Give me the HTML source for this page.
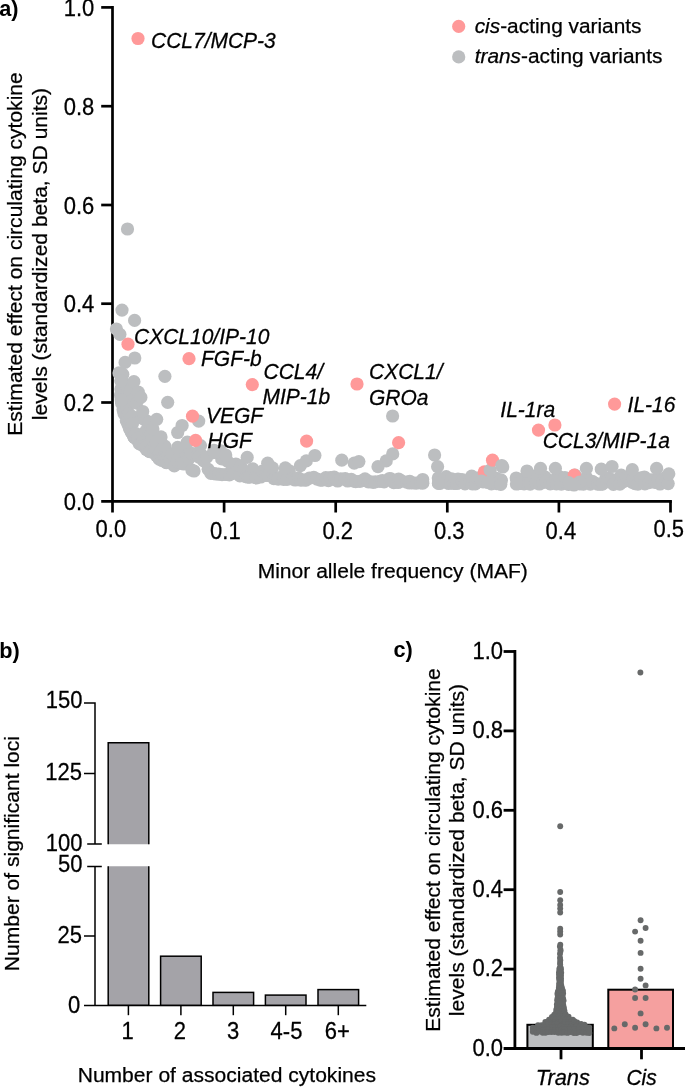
<!DOCTYPE html>
<html><head><meta charset="utf-8"><title>Figure</title>
<style>
html,body{margin:0;padding:0;background:#fff}
svg{display:block}
text{font-family:"Liberation Sans",sans-serif;font-size:20.85px;fill:#000}
.t{font-size:22px}
text{stroke:#000;stroke-width:0.25px}
.l{font-size:21.0px;font-style:italic}
svg{will-change:transform}
.h{font-size:21.05px}
.b{font-size:21.7px;font-weight:bold;stroke:none}
</style></head>
<body>
<svg width="685" height="1087" viewBox="0 0 685 1087">
<rect width="685" height="1087" fill="#fff"/>
<path d="M112.5 6.05V502.65000000000003M101.2 501.3H671.9" stroke="#000" stroke-width="2.7" fill="none"/>
<text class="t" transform="translate(94.3,509.8) scale(1,1.06)" text-anchor="end">0.0</text>
<path d="M101.2 402.5H112.5" stroke="#000" stroke-width="2.7"/>
<text class="t" transform="translate(94.3,411.0) scale(1,1.06)" text-anchor="end">0.2</text>
<path d="M101.2 303.7H112.5" stroke="#000" stroke-width="2.7"/>
<text class="t" transform="translate(94.3,312.2) scale(1,1.06)" text-anchor="end">0.4</text>
<path d="M101.2 205.0H112.5" stroke="#000" stroke-width="2.7"/>
<text class="t" transform="translate(94.3,213.5) scale(1,1.06)" text-anchor="end">0.6</text>
<path d="M101.2 106.2H112.5" stroke="#000" stroke-width="2.7"/>
<text class="t" transform="translate(94.3,114.7) scale(1,1.06)" text-anchor="end">0.8</text>
<path d="M101.2 7.4H112.5" stroke="#000" stroke-width="2.7"/>
<text class="t" transform="translate(94.3,15.9) scale(1,1.06)" text-anchor="end">1.0</text>
<path d="M112.5 501.3V512.5" stroke="#000" stroke-width="2.7"/>
<text class="t" transform="translate(110.9,536.8) scale(1,1.06)" text-anchor="middle">0.0</text>
<path d="M224.1 501.3V512.5" stroke="#000" stroke-width="2.7"/>
<text class="t" transform="translate(225.4,539.2) scale(1,1.06)" text-anchor="middle">0.1</text>
<path d="M335.7 501.3V512.5" stroke="#000" stroke-width="2.7"/>
<text class="t" transform="translate(337.7,539.2) scale(1,1.06)" text-anchor="middle">0.2</text>
<path d="M447.3 501.3V512.5" stroke="#000" stroke-width="2.7"/>
<text class="t" transform="translate(449.3,539.2) scale(1,1.06)" text-anchor="middle">0.3</text>
<path d="M558.9 501.3V512.5" stroke="#000" stroke-width="2.7"/>
<text class="t" transform="translate(560.9,539.2) scale(1,1.06)" text-anchor="middle">0.4</text>
<path d="M670.5 501.3V512.5" stroke="#000" stroke-width="2.7"/>
<text class="t" transform="translate(668.8,537.0) scale(1,1.06)" text-anchor="middle">0.5</text>
<text class="h" x="392.75" y="578.1" text-anchor="middle">Minor allele frequency (MAF)</text>
<text class="h" transform="translate(21.6,254) rotate(-90)" text-anchor="middle">Estimated effect on circulating cytokine</text>
<text class="h" transform="translate(46.8,254) rotate(-90)" text-anchor="middle">levels (standardized beta, SD units)</text>
<text class="b" x="-0.7" y="16.1">a)</text>
<circle cx="458.7" cy="26.4" r="6.6" fill="#FF9999"/><circle cx="458.7" cy="56.9" r="6.6" fill="#BCBEC0"/>
<text x="474.7" y="33.4"><tspan font-style="italic">cis</tspan>-acting variants</text>
<text x="474.7" y="63.3"><tspan font-style="italic">trans</tspan>-acting variants</text>
<g fill="#BCBEC0">
<circle cx="120.6" cy="395.2" r="6.6"/>
<circle cx="120.9" cy="388.9" r="6.6"/>
<circle cx="121.2" cy="400.1" r="6.6"/>
<circle cx="121.6" cy="403.2" r="6.6"/>
<circle cx="121.9" cy="374.2" r="6.6"/>
<circle cx="122.2" cy="381.3" r="6.6"/>
<circle cx="122.6" cy="383.1" r="6.6"/>
<circle cx="122.8" cy="374.3" r="6.6"/>
<circle cx="123.1" cy="409.5" r="6.6"/>
<circle cx="123.7" cy="410.8" r="6.6"/>
<circle cx="123.9" cy="400.4" r="6.6"/>
<circle cx="124.0" cy="413.6" r="6.6"/>
<circle cx="124.6" cy="408.7" r="6.6"/>
<circle cx="124.8" cy="410.1" r="6.6"/>
<circle cx="125.2" cy="412.8" r="6.6"/>
<circle cx="125.5" cy="399.1" r="6.6"/>
<circle cx="125.8" cy="398.1" r="6.6"/>
<circle cx="126.0" cy="403.6" r="6.6"/>
<circle cx="126.3" cy="420.8" r="6.6"/>
<circle cx="126.8" cy="385.8" r="6.6"/>
<circle cx="127.2" cy="409.0" r="6.6"/>
<circle cx="127.4" cy="414.8" r="6.6"/>
<circle cx="127.8" cy="392.2" r="6.6"/>
<circle cx="128.0" cy="424.1" r="6.6"/>
<circle cx="128.4" cy="385.3" r="6.6"/>
<circle cx="128.6" cy="413.6" r="6.6"/>
<circle cx="128.8" cy="424.5" r="6.6"/>
<circle cx="129.1" cy="426.5" r="6.6"/>
<circle cx="129.5" cy="428.2" r="6.6"/>
<circle cx="130.0" cy="429.2" r="6.6"/>
<circle cx="130.2" cy="391.6" r="6.6"/>
<circle cx="130.7" cy="423.6" r="6.6"/>
<circle cx="130.8" cy="390.1" r="6.6"/>
<circle cx="131.1" cy="431.8" r="6.6"/>
<circle cx="131.4" cy="421.8" r="6.6"/>
<circle cx="131.7" cy="432.5" r="6.6"/>
<circle cx="132.1" cy="416.4" r="6.6"/>
<circle cx="132.5" cy="423.5" r="6.6"/>
<circle cx="132.8" cy="433.1" r="6.6"/>
<circle cx="133.2" cy="400.0" r="6.6"/>
<circle cx="133.4" cy="434.4" r="6.6"/>
<circle cx="133.8" cy="436.7" r="6.6"/>
<circle cx="133.9" cy="436.3" r="6.6"/>
<circle cx="134.2" cy="437.2" r="6.6"/>
<circle cx="134.5" cy="437.6" r="6.6"/>
<circle cx="135.5" cy="436.8" r="6.6"/>
<circle cx="135.8" cy="433.5" r="6.6"/>
<circle cx="136.5" cy="403.2" r="6.6"/>
<circle cx="137.6" cy="440.5" r="6.6"/>
<circle cx="138.1" cy="438.1" r="6.6"/>
<circle cx="139.5" cy="443.9" r="6.6"/>
<circle cx="140.4" cy="442.6" r="6.6"/>
<circle cx="140.8" cy="444.2" r="6.6"/>
<circle cx="142.0" cy="418.1" r="6.6"/>
<circle cx="142.2" cy="444.1" r="6.6"/>
<circle cx="143.4" cy="436.0" r="6.6"/>
<circle cx="143.9" cy="446.3" r="6.6"/>
<circle cx="145.2" cy="420.2" r="6.6"/>
<circle cx="145.8" cy="431.1" r="6.6"/>
<circle cx="146.4" cy="449.6" r="6.6"/>
<circle cx="146.8" cy="446.6" r="6.6"/>
<circle cx="148.1" cy="429.6" r="6.6"/>
<circle cx="149.1" cy="422.0" r="6.6"/>
<circle cx="149.5" cy="451.7" r="6.6"/>
<circle cx="150.1" cy="451.3" r="6.6"/>
<circle cx="151.5" cy="432.1" r="6.6"/>
<circle cx="152.1" cy="439.2" r="6.6"/>
<circle cx="152.9" cy="428.9" r="6.6"/>
<circle cx="153.8" cy="452.9" r="6.6"/>
<circle cx="154.6" cy="445.6" r="6.6"/>
<circle cx="155.5" cy="451.5" r="6.6"/>
<circle cx="156.3" cy="442.2" r="6.6"/>
<circle cx="156.4" cy="455.6" r="6.6"/>
<circle cx="157.8" cy="456.7" r="6.6"/>
<circle cx="158.7" cy="454.6" r="6.6"/>
<circle cx="159.2" cy="459.1" r="6.6"/>
<circle cx="160.3" cy="453.7" r="6.6"/>
<circle cx="161.1" cy="450.3" r="6.6"/>
<circle cx="161.8" cy="460.3" r="6.6"/>
<circle cx="162.2" cy="460.0" r="6.6"/>
<circle cx="162.9" cy="460.0" r="6.6"/>
<circle cx="164.2" cy="457.2" r="6.6"/>
<circle cx="164.8" cy="446.1" r="6.6"/>
<circle cx="165.8" cy="457.4" r="6.6"/>
<circle cx="166.3" cy="462.7" r="6.6"/>
<circle cx="166.9" cy="462.5" r="6.6"/>
<circle cx="167.6" cy="456.5" r="6.6"/>
<circle cx="169.6" cy="459.6" r="6.6"/>
<circle cx="171.9" cy="454.3" r="6.6"/>
<circle cx="174.3" cy="465.9" r="6.6"/>
<circle cx="177.1" cy="461.8" r="6.6"/>
<circle cx="179.4" cy="453.3" r="6.6"/>
<circle cx="181.3" cy="463.5" r="6.6"/>
<circle cx="183.9" cy="464.0" r="6.6"/>
<circle cx="185.7" cy="452.7" r="6.6"/>
<circle cx="188.9" cy="458.5" r="6.6"/>
<circle cx="190.5" cy="452.8" r="6.6"/>
<circle cx="191.9" cy="470.1" r="6.6"/>
<circle cx="194.0" cy="471.0" r="6.6"/>
<circle cx="197.8" cy="454.5" r="6.6"/>
<circle cx="198.9" cy="457.2" r="6.6"/>
<circle cx="201.2" cy="454.7" r="6.6"/>
<circle cx="203.7" cy="460.9" r="6.6"/>
<circle cx="206.6" cy="457.3" r="6.6"/>
<circle cx="208.2" cy="469.3" r="6.6"/>
<circle cx="210.9" cy="473.4" r="6.6"/>
<circle cx="214.2" cy="473.5" r="6.6"/>
<circle cx="215.8" cy="474.0" r="6.6"/>
<circle cx="218.6" cy="474.1" r="6.6"/>
<circle cx="221.7" cy="458.9" r="6.6"/>
<circle cx="222.0" cy="474.7" r="6.6"/>
<circle cx="225.9" cy="474.5" r="6.6"/>
<circle cx="227.4" cy="461.2" r="6.6"/>
<circle cx="229.4" cy="474.8" r="6.6"/>
<circle cx="232.4" cy="468.2" r="6.6"/>
<circle cx="233.5" cy="473.1" r="6.6"/>
<circle cx="235.9" cy="464.0" r="6.6"/>
<circle cx="239.9" cy="475.9" r="6.6"/>
<circle cx="240.5" cy="466.1" r="6.6"/>
<circle cx="243.5" cy="470.7" r="6.6"/>
<circle cx="245.6" cy="476.7" r="6.6"/>
<circle cx="247.9" cy="477.2" r="6.6"/>
<circle cx="249.8" cy="477.2" r="6.6"/>
<circle cx="252.7" cy="468.8" r="6.6"/>
<circle cx="255.5" cy="477.6" r="6.6"/>
<circle cx="256.7" cy="477.9" r="6.6"/>
<circle cx="260.7" cy="477.0" r="6.6"/>
<circle cx="262.4" cy="471.1" r="6.6"/>
<circle cx="265.5" cy="475.4" r="6.6"/>
<circle cx="267.9" cy="475.5" r="6.6"/>
<circle cx="269.9" cy="469.9" r="6.6"/>
<circle cx="272.5" cy="467.9" r="6.6"/>
<circle cx="273.9" cy="478.7" r="6.6"/>
<circle cx="275.6" cy="478.5" r="6.6"/>
<circle cx="278.2" cy="479.2" r="6.6"/>
<circle cx="282.3" cy="476.3" r="6.6"/>
<circle cx="283.6" cy="479.3" r="6.6"/>
<circle cx="287.0" cy="479.3" r="6.6"/>
<circle cx="289.3" cy="470.9" r="6.6"/>
<circle cx="293.0" cy="479.1" r="6.6"/>
<circle cx="295.2" cy="480.0" r="6.6"/>
<circle cx="298.3" cy="477.8" r="6.6"/>
<circle cx="300.7" cy="480.2" r="6.6"/>
<circle cx="303.8" cy="480.0" r="6.6"/>
<circle cx="306.0" cy="480.1" r="6.6"/>
<circle cx="309.4" cy="478.1" r="6.6"/>
<circle cx="313.8" cy="477.4" r="6.6"/>
<circle cx="317.1" cy="479.2" r="6.6"/>
<circle cx="320.3" cy="480.2" r="6.6"/>
<circle cx="322.2" cy="480.2" r="6.6"/>
<circle cx="325.8" cy="477.7" r="6.6"/>
<circle cx="328.4" cy="480.6" r="6.6"/>
<circle cx="330.4" cy="477.5" r="6.6"/>
<circle cx="334.2" cy="477.2" r="6.6"/>
<circle cx="336.7" cy="480.2" r="6.6"/>
<circle cx="337.7" cy="481.0" r="6.6"/>
<circle cx="340.8" cy="478.9" r="6.6"/>
<circle cx="345.2" cy="478.6" r="6.6"/>
<circle cx="347.7" cy="481.0" r="6.6"/>
<circle cx="351.3" cy="479.4" r="6.6"/>
<circle cx="354.0" cy="481.2" r="6.6"/>
<circle cx="355.7" cy="481.6" r="6.6"/>
<circle cx="359.9" cy="481.4" r="6.6"/>
<circle cx="363.5" cy="480.4" r="6.6"/>
<circle cx="365.0" cy="478.9" r="6.6"/>
<circle cx="368.3" cy="481.9" r="6.6"/>
<circle cx="369.8" cy="481.7" r="6.6"/>
<circle cx="373.1" cy="482.3" r="6.6"/>
<circle cx="375.3" cy="481.9" r="6.6"/>
<circle cx="380.0" cy="481.3" r="6.6"/>
<circle cx="382.4" cy="480.6" r="6.6"/>
<circle cx="384.1" cy="481.8" r="6.6"/>
<circle cx="389.5" cy="478.5" r="6.6"/>
<circle cx="390.9" cy="478.8" r="6.6"/>
<circle cx="393.8" cy="482.6" r="6.6"/>
<circle cx="398.1" cy="482.5" r="6.6"/>
<circle cx="398.6" cy="479.0" r="6.6"/>
<circle cx="401.5" cy="480.9" r="6.6"/>
<circle cx="406.6" cy="482.1" r="6.6"/>
<circle cx="409.5" cy="483.0" r="6.6"/>
<circle cx="409.8" cy="481.3" r="6.6"/>
<circle cx="413.5" cy="483.0" r="6.6"/>
<circle cx="416.5" cy="483.2" r="6.6"/>
<circle cx="420.6" cy="482.9" r="6.6"/>
<circle cx="438.5" cy="483.4" r="6.6"/>
<circle cx="440.1" cy="483.4" r="6.6"/>
<circle cx="444.3" cy="480.6" r="6.6"/>
<circle cx="446.2" cy="476.6" r="6.6"/>
<circle cx="448.7" cy="483.5" r="6.6"/>
<circle cx="451.6" cy="478.8" r="6.6"/>
<circle cx="453.8" cy="483.5" r="6.6"/>
<circle cx="457.0" cy="483.5" r="6.6"/>
<circle cx="458.0" cy="479.0" r="6.6"/>
<circle cx="462.0" cy="479.6" r="6.6"/>
<circle cx="462.8" cy="481.3" r="6.6"/>
<circle cx="465.0" cy="483.8" r="6.6"/>
<circle cx="469.3" cy="482.5" r="6.6"/>
<circle cx="471.7" cy="476.1" r="6.6"/>
<circle cx="472.3" cy="483.9" r="6.6"/>
<circle cx="475.3" cy="483.8" r="6.6"/>
<circle cx="477.5" cy="478.2" r="6.6"/>
<circle cx="481.2" cy="481.3" r="6.6"/>
<circle cx="483.1" cy="481.8" r="6.6"/>
<circle cx="484.5" cy="477.7" r="6.6"/>
<circle cx="487.1" cy="480.0" r="6.6"/>
<circle cx="491.4" cy="483.9" r="6.6"/>
<circle cx="492.3" cy="481.2" r="6.6"/>
<circle cx="496.5" cy="478.4" r="6.6"/>
<circle cx="496.7" cy="483.6" r="6.6"/>
<circle cx="501.3" cy="480.3" r="6.6"/>
<circle cx="518.3" cy="483.6" r="6.6"/>
<circle cx="520.5" cy="483.4" r="6.6"/>
<circle cx="521.9" cy="479.7" r="6.6"/>
<circle cx="524.1" cy="483.9" r="6.6"/>
<circle cx="527.7" cy="482.8" r="6.6"/>
<circle cx="530.2" cy="484.1" r="6.6"/>
<circle cx="532.3" cy="475.9" r="6.6"/>
<circle cx="535.8" cy="482.8" r="6.6"/>
<circle cx="536.7" cy="475.8" r="6.6"/>
<circle cx="539.4" cy="484.0" r="6.6"/>
<circle cx="542.7" cy="482.6" r="6.6"/>
<circle cx="545.2" cy="477.2" r="6.6"/>
<circle cx="546.1" cy="481.6" r="6.6"/>
<circle cx="550.2" cy="483.8" r="6.6"/>
<circle cx="552.8" cy="483.0" r="6.6"/>
<circle cx="555.8" cy="479.0" r="6.6"/>
<circle cx="556.4" cy="483.8" r="6.6"/>
<circle cx="559.1" cy="476.5" r="6.6"/>
<circle cx="561.3" cy="484.1" r="6.6"/>
<circle cx="564.9" cy="477.5" r="6.6"/>
<circle cx="566.7" cy="483.7" r="6.6"/>
<circle cx="568.6" cy="484.3" r="6.6"/>
<circle cx="571.7" cy="478.7" r="6.6"/>
<circle cx="575.0" cy="475.2" r="6.6"/>
<circle cx="576.4" cy="483.7" r="6.6"/>
<circle cx="579.9" cy="483.9" r="6.6"/>
<circle cx="581.5" cy="482.2" r="6.6"/>
<circle cx="583.4" cy="484.2" r="6.6"/>
<circle cx="586.4" cy="477.5" r="6.6"/>
<circle cx="590.3" cy="484.1" r="6.6"/>
<circle cx="592.4" cy="481.6" r="6.6"/>
<circle cx="593.0" cy="481.9" r="6.6"/>
<circle cx="597.6" cy="484.1" r="6.6"/>
<circle cx="600.0" cy="484.1" r="6.6"/>
<circle cx="602.3" cy="484.1" r="6.6"/>
<circle cx="602.8" cy="483.7" r="6.6"/>
<circle cx="605.9" cy="478.5" r="6.6"/>
<circle cx="608.5" cy="478.1" r="6.6"/>
<circle cx="611.7" cy="479.7" r="6.6"/>
<circle cx="613.4" cy="484.3" r="6.6"/>
<circle cx="617.0" cy="480.2" r="6.6"/>
<circle cx="619.9" cy="484.1" r="6.6"/>
<circle cx="621.2" cy="475.1" r="6.6"/>
<circle cx="623.5" cy="481.5" r="6.6"/>
<circle cx="626.2" cy="477.3" r="6.6"/>
<circle cx="629.4" cy="479.0" r="6.6"/>
<circle cx="631.8" cy="482.1" r="6.6"/>
<circle cx="633.2" cy="479.2" r="6.6"/>
<circle cx="635.0" cy="483.7" r="6.6"/>
<circle cx="637.9" cy="484.2" r="6.6"/>
<circle cx="641.1" cy="477.9" r="6.6"/>
<circle cx="644.4" cy="477.0" r="6.6"/>
<circle cx="644.9" cy="483.9" r="6.6"/>
<circle cx="648.9" cy="482.7" r="6.6"/>
<circle cx="650.7" cy="479.8" r="6.6"/>
<circle cx="654.0" cy="479.9" r="6.6"/>
<circle cx="654.9" cy="482.3" r="6.6"/>
<circle cx="658.4" cy="479.4" r="6.6"/>
<circle cx="660.0" cy="484.0" r="6.6"/>
<circle cx="662.4" cy="480.4" r="6.6"/>
<circle cx="665.3" cy="477.7" r="6.6"/>
<circle cx="668.2" cy="483.6" r="6.6"/>
<circle cx="122.0" cy="310.1" r="6.6"/>
<circle cx="134.6" cy="320.4" r="6.6"/>
<circle cx="116.4" cy="329.0" r="6.6"/>
<circle cx="119.9" cy="334.4" r="6.6"/>
<circle cx="134.8" cy="358.0" r="6.6"/>
<circle cx="125.1" cy="362.4" r="6.6"/>
<circle cx="119.0" cy="372.9" r="6.6"/>
<circle cx="120.8" cy="380.8" r="6.6"/>
<circle cx="133.9" cy="381.7" r="6.6"/>
<circle cx="138.3" cy="392.2" r="6.6"/>
<circle cx="140.9" cy="397.4" r="6.6"/>
<circle cx="121.6" cy="400.0" r="6.6"/>
<circle cx="142.7" cy="411.5" r="6.6"/>
<circle cx="156.7" cy="419.3" r="6.6"/>
<circle cx="182.1" cy="425.5" r="6.6"/>
<circle cx="177.7" cy="432.5" r="6.6"/>
<circle cx="198.7" cy="421.1" r="6.6"/>
<circle cx="161.0" cy="436.9" r="6.6"/>
<circle cx="177.7" cy="447.4" r="6.6"/>
<circle cx="187.3" cy="442.1" r="6.6"/>
<circle cx="200.5" cy="445.6" r="6.6"/>
<circle cx="213.6" cy="452.6" r="6.6"/>
<circle cx="220.6" cy="450.9" r="6.6"/>
<circle cx="164.9" cy="376.3" r="6.6"/>
<circle cx="167.7" cy="402.3" r="6.6"/>
<circle cx="127.5" cy="229.0" r="6.6"/>
<circle cx="214.0" cy="450.4" r="6.6"/>
<circle cx="225.7" cy="455.0" r="6.6"/>
<circle cx="247.2" cy="457.4" r="6.6"/>
<circle cx="267.7" cy="463.2" r="6.6"/>
<circle cx="285.3" cy="467.9" r="6.6"/>
<circle cx="300.4" cy="465.6" r="6.6"/>
<circle cx="306.3" cy="460.9" r="6.6"/>
<circle cx="314.9" cy="455.5" r="6.6"/>
<circle cx="341.8" cy="460.2" r="6.6"/>
<circle cx="354.2" cy="463.2" r="6.6"/>
<circle cx="358.9" cy="461.6" r="6.6"/>
<circle cx="392.7" cy="453.9" r="6.6"/>
<circle cx="386.2" cy="460.9" r="6.6"/>
<circle cx="378.0" cy="466.7" r="6.6"/>
<circle cx="392.6" cy="416.0" r="6.6"/>
<circle cx="434.6" cy="455.0" r="6.6"/>
<circle cx="437.6" cy="466.7" r="6.6"/>
<circle cx="516.2" cy="478.0" r="6.6"/>
<circle cx="516.4" cy="484.0" r="6.6"/>
<circle cx="501.0" cy="480.0" r="6.6"/>
<circle cx="500.8" cy="484.3" r="6.6"/>
<circle cx="422.7" cy="479.5" r="6.6"/>
<circle cx="422.8" cy="483.2" r="6.6"/>
<circle cx="438.3" cy="478.0" r="6.6"/>
<circle cx="438.4" cy="483.0" r="6.6"/>
<circle cx="502.7" cy="467.0" r="6.6"/>
<circle cx="527.0" cy="471.0" r="6.6"/>
<circle cx="540.5" cy="468.4" r="6.6"/>
<circle cx="555.4" cy="468.4" r="6.6"/>
<circle cx="586.4" cy="468.4" r="6.6"/>
<circle cx="601.3" cy="469.2" r="6.6"/>
<circle cx="612.0" cy="466.5" r="6.6"/>
<circle cx="632.3" cy="469.7" r="6.6"/>
<circle cx="656.6" cy="468.4" r="6.6"/>
<circle cx="668.8" cy="473.8" r="6.6"/>
</g>
<g fill="#FF9999">
<circle cx="484.3" cy="471.9" r="6.6"/>
<circle cx="574.3" cy="475.1" r="6.6"/>
</g>
<g fill="#BCBEC0">
<circle cx="490.2" cy="470.2" r="6.6"/>
<circle cx="481.5" cy="481.0" r="6.6"/>
<circle cx="488.0" cy="482.5" r="6.6"/>
<circle cx="568.6" cy="482.6" r="6.6"/>
<circle cx="579.6" cy="482.2" r="6.6"/>
<circle cx="574.0" cy="485.0" r="6.6"/>
</g>
<g fill="#FF9999">
<circle cx="138.0" cy="38.5" r="6.6"/>
<circle cx="128.0" cy="344.2" r="6.6"/>
<circle cx="189.0" cy="358.7" r="6.6"/>
<circle cx="252.3" cy="384.6" r="6.6"/>
<circle cx="192.5" cy="416.2" r="6.6"/>
<circle cx="195.6" cy="440.4" r="6.6"/>
<circle cx="306.6" cy="441.1" r="6.6"/>
<circle cx="357.0" cy="384.0" r="6.6"/>
<circle cx="398.6" cy="442.7" r="6.6"/>
<circle cx="492.5" cy="460.2" r="6.6"/>
<circle cx="538.5" cy="430.1" r="6.6"/>
<circle cx="554.9" cy="425.0" r="6.6"/>
<circle cx="614.6" cy="404.1" r="6.6"/>
</g>
<circle cx="501.8" cy="465.5" r="6.6" fill="#BCBEC0"/>
<text class="l" transform="translate(151,48) scale(1,1.05)">CCL7/MCP-3</text>
<text class="l" transform="translate(134,344) scale(1,1.05)">CXCL10/IP-10</text>
<text class="l" transform="translate(201,366) scale(1,1.05)">FGF-b</text>
<text class="l" transform="translate(263.5,378.5) scale(1,1.05)">CCL4/</text>
<text class="l" transform="translate(262.5,403.5) scale(1,1.05)">MIP-1b</text>
<text class="l" transform="translate(206,422.5) scale(1,1.05)">VEGF</text>
<text class="l" transform="translate(207.5,447.5) scale(1,1.05)">HGF</text>
<text class="l" transform="translate(369,379) scale(1,1.05)">CXCL1/</text>
<text class="l" transform="translate(369,405) scale(1,1.05)">GROa</text>
<text class="l" transform="translate(500.3,416.8) scale(1,1.05)">IL-1ra</text>
<text class="l" transform="translate(627.6,411.8) scale(1,1.05)">IL-16</text>
<text class="l" transform="translate(542.7,448.3) scale(1,1.05)">CCL3/MIP-1a</text>
<path d="M95.0 702.25V844M84 703H95.0M84 773.6H95.0M87.2 844H101.8" stroke="#000" stroke-width="1.5" fill="none"/>
<path d="M95.0 866.4V1005.4M87.2 866.4H101.8M84 935.9H95.0M84 1005.4H366.3" stroke="#000" stroke-width="1.5" fill="none"/>
<path d="M108.2 844.2V742.8H148.8V844.2" fill="#A4A3A8" stroke="#000" stroke-width="1.5"/>
<path d="M108.2 866.3V1005.3H148.8V866.3" fill="#A4A3A8" stroke="#000" stroke-width="1.5"/>
<rect x="160.6" y="956.2" width="40.6" height="49.1" fill="#A4A3A8" stroke="#000" stroke-width="1.5"/>
<rect x="213.0" y="992.4" width="40.6" height="12.9" fill="#A4A3A8" stroke="#000" stroke-width="1.5"/>
<rect x="265.4" y="995.1" width="40.6" height="10.2" fill="#A4A3A8" stroke="#000" stroke-width="1.5"/>
<rect x="318.0" y="989.6" width="40.6" height="15.7" fill="#A4A3A8" stroke="#000" stroke-width="1.5"/>
<path d="M128.4 1005.3V1015.2" stroke="#000" stroke-width="1.5"/>
<path d="M180.9 1005.3V1015.2" stroke="#000" stroke-width="1.5"/>
<path d="M233.3 1005.3V1015.2" stroke="#000" stroke-width="1.5"/>
<path d="M285.7 1005.3V1015.2" stroke="#000" stroke-width="1.5"/>
<path d="M338.3 1005.3V1015.2" stroke="#000" stroke-width="1.5"/>
<text class="t" transform="translate(127.6,1039.4) scale(1,1.06)" text-anchor="middle">1</text>
<text class="t" transform="translate(179.9,1039.4) scale(1,1.06)" text-anchor="middle">2</text>
<text class="t" transform="translate(233,1039.4) scale(1,1.06)" text-anchor="middle">3</text>
<text class="t" transform="translate(286.5,1039.4) scale(1,1.06)" text-anchor="middle">4-5</text>
<text class="t" transform="translate(337.4,1039.4) scale(1,1.06)" text-anchor="middle">6+</text>
<text class="t" transform="translate(82.4,708.0) scale(1,1.06)" text-anchor="end">150</text>
<text class="t" transform="translate(82.0,780.3) scale(1,1.06)" text-anchor="end">125</text>
<text class="t" transform="translate(82.4,850.8) scale(1,1.06)" text-anchor="end">100</text>
<text class="t" transform="translate(82.4,871.6) scale(1,1.06)" text-anchor="end">50</text>
<text class="t" transform="translate(82.0,942.9) scale(1,1.06)" text-anchor="end">25</text>
<text class="t" transform="translate(80.3,1012.6) scale(1,1.06)" text-anchor="end">0</text>
<text class="h" x="226.85" y="1081.8" text-anchor="middle">Number of associated cytokines</text>
<text class="h" transform="translate(19.1,853.6) rotate(-90)" text-anchor="middle">Number of significant loci</text>
<text class="b" x="-0.7" y="657.8">b)</text>
<rect x="527.4" y="1024.8" width="65.4" height="23.7" fill="#BCBEC0" stroke="#000" stroke-width="2"/>
<rect x="608.3" y="989.7" width="64.7" height="58.8" fill="#F5A09F" stroke="#000" stroke-width="2"/>
<path d="M514.9 650.10V1049.9M503.59999999999997 1048.5H685" stroke="#000" stroke-width="2.8" fill="none"/>
<text class="t" transform="translate(503,1055.7) scale(1,1.06)" text-anchor="end">0.0</text>
<path d="M503.59999999999997 969.1H514.9" stroke="#000" stroke-width="2.8"/>
<text class="t" transform="translate(503,976.3) scale(1,1.06)" text-anchor="end">0.2</text>
<path d="M503.59999999999997 889.7H514.9" stroke="#000" stroke-width="2.8"/>
<text class="t" transform="translate(503,896.9) scale(1,1.06)" text-anchor="end">0.4</text>
<path d="M503.59999999999997 810.3H514.9" stroke="#000" stroke-width="2.8"/>
<text class="t" transform="translate(503,817.5) scale(1,1.06)" text-anchor="end">0.6</text>
<path d="M503.59999999999997 730.9H514.9" stroke="#000" stroke-width="2.8"/>
<text class="t" transform="translate(503,738.1) scale(1,1.06)" text-anchor="end">0.8</text>
<path d="M503.59999999999997 651.5H514.9" stroke="#000" stroke-width="2.8"/>
<text class="t" transform="translate(503,658.7) scale(1,1.06)" text-anchor="end">1.0</text>
<path d="M561 1048.5V1059.3" stroke="#000" stroke-width="2.8"/>
<path d="M641.5 1048.5V1059.3" stroke="#000" stroke-width="2.8"/>
<text transform="translate(562.8,1085) scale(1.04,1.05)" text-anchor="middle" class="l">Trans</text>
<text transform="translate(641.6,1085) scale(1,1.05)" text-anchor="middle" class="l">Cis</text>
<text class="h" transform="translate(440.0,850) rotate(-90)" text-anchor="middle">Estimated effect on circulating cytokine</text>
<text class="h" transform="translate(464.3,850) rotate(-90)" text-anchor="middle">levels (standardized beta, SD units)</text>
<text class="b" x="393.5" y="656.8">c)</text>
<g fill="#676969">
<circle cx="640.6" cy="920.2" r="2.95"/>
<circle cx="635.1" cy="931.6" r="2.95"/>
<circle cx="645.6" cy="928" r="2.95"/>
<circle cx="640.6" cy="940.7" r="2.95"/>
<circle cx="640.6" cy="952.9" r="2.95"/>
<circle cx="640.6" cy="968.7" r="2.95"/>
<circle cx="640.6" cy="978.7" r="2.95"/>
<circle cx="645.6" cy="985.4" r="2.95"/>
<circle cx="635.1" cy="989.5" r="2.95"/>
<circle cx="635.1" cy="998" r="2.95"/>
<circle cx="645.6" cy="998" r="2.95"/>
<circle cx="640.6" cy="1013.4" r="2.95"/>
<circle cx="614.3" cy="1028.4" r="2.95"/>
<circle cx="624.8" cy="1024.2" r="2.95"/>
<circle cx="635.1" cy="1027.8" r="2.95"/>
<circle cx="645.6" cy="1024.2" r="2.95"/>
<circle cx="656.4" cy="1028.4" r="2.95"/>
<circle cx="667" cy="1027.8" r="2.95"/>
<circle cx="640.4" cy="672.5" r="2.95"/>
<circle cx="560.2" cy="826.2" r="2.95"/>
<circle cx="560.2" cy="892.0" r="2.95"/>
<circle cx="560.2" cy="900.3" r="2.95"/>
<circle cx="560.2" cy="905.0" r="2.95"/>
<circle cx="560.2" cy="908.6" r="2.95"/>
<circle cx="560.2" cy="912.5" r="2.95"/>
<circle cx="560.2" cy="928.8" r="2.95"/>
<circle cx="560.2" cy="931.6" r="2.95"/>
<circle cx="560.2" cy="934.5" r="2.95"/>
<circle cx="560.3" cy="944.8" r="2.95"/>
<circle cx="559.9" cy="946.6" r="2.95"/>
<circle cx="560.5" cy="949.7" r="2.95"/>
<circle cx="560.5" cy="951.1" r="2.95"/>
<circle cx="560.0" cy="953.8" r="2.95"/>
<circle cx="560.0" cy="957.8" r="2.95"/>
<circle cx="560.3" cy="960.3" r="2.95"/>
<circle cx="560.1" cy="962.8" r="2.95"/>
<circle cx="560.2" cy="964.4" r="2.95"/>
<circle cx="559.6" cy="968.1" r="2.95"/>
<circle cx="560.7" cy="967.6" r="2.95"/>
<circle cx="559.4" cy="969.5" r="2.95"/>
<circle cx="561.0" cy="969.4" r="2.95"/>
<circle cx="559.0" cy="972.2" r="2.95"/>
<circle cx="561.2" cy="972.8" r="2.95"/>
<circle cx="559.0" cy="974.4" r="2.95"/>
<circle cx="561.0" cy="975.5" r="2.95"/>
<circle cx="559.0" cy="977.5" r="2.95"/>
<circle cx="561.0" cy="978.3" r="2.95"/>
<circle cx="559.2" cy="979.7" r="2.95"/>
<circle cx="560.9" cy="980.2" r="2.95"/>
<circle cx="559.2" cy="983.2" r="2.95"/>
<circle cx="560.9" cy="982.5" r="2.95"/>
<circle cx="559.1" cy="985.5" r="2.95"/>
<circle cx="561.2" cy="985.3" r="2.95"/>
<circle cx="558.8" cy="987.9" r="2.95"/>
<circle cx="562.0" cy="988.0" r="2.95"/>
<circle cx="557.9" cy="991.4" r="2.95"/>
<circle cx="562.9" cy="990.6" r="2.95"/>
<circle cx="557.4" cy="993.8" r="2.95"/>
<circle cx="560.0" cy="992.6" r="2.95"/>
<circle cx="563.1" cy="993.3" r="2.95"/>
<circle cx="557.8" cy="995.8" r="2.95"/>
<circle cx="560.5" cy="995.9" r="2.95"/>
<circle cx="562.6" cy="995.2" r="2.95"/>
<circle cx="557.4" cy="998.8" r="2.95"/>
<circle cx="560.5" cy="997.9" r="2.95"/>
<circle cx="563.1" cy="998.4" r="2.95"/>
<circle cx="557.2" cy="1000.6" r="2.95"/>
<circle cx="560.0" cy="1001.2" r="2.95"/>
<circle cx="563.6" cy="1000.6" r="2.95"/>
<circle cx="556.9" cy="1004.3" r="2.95"/>
<circle cx="560.6" cy="1003.3" r="2.95"/>
<circle cx="563.2" cy="1004.5" r="2.95"/>
<circle cx="557.0" cy="1006.4" r="2.95"/>
<circle cx="559.8" cy="1007.1" r="2.95"/>
<circle cx="563.7" cy="1007.0" r="2.95"/>
<circle cx="556.3" cy="1009.5" r="2.95"/>
<circle cx="559.9" cy="1009.5" r="2.95"/>
<circle cx="563.9" cy="1008.8" r="2.95"/>
<circle cx="556.1" cy="1012.1" r="2.95"/>
<circle cx="558.5" cy="1011.1" r="2.95"/>
<circle cx="561.6" cy="1011.6" r="2.95"/>
<circle cx="564.5" cy="1011.0" r="2.95"/>
<circle cx="554.2" cy="1014.6" r="2.95"/>
<circle cx="557.6" cy="1013.5" r="2.95"/>
<circle cx="560.2" cy="1014.6" r="2.95"/>
<circle cx="562.7" cy="1014.7" r="2.95"/>
<circle cx="565.7" cy="1014.4" r="2.95"/>
<circle cx="551.9" cy="1017.0" r="2.95"/>
<circle cx="555.1" cy="1016.7" r="2.95"/>
<circle cx="558.6" cy="1016.7" r="2.95"/>
<circle cx="562.0" cy="1016.7" r="2.95"/>
<circle cx="565.1" cy="1016.0" r="2.95"/>
<circle cx="568.6" cy="1016.8" r="2.95"/>
<circle cx="549.0" cy="1019.8" r="2.95"/>
<circle cx="552.9" cy="1019.3" r="2.95"/>
<circle cx="555.8" cy="1019.4" r="2.95"/>
<circle cx="559.2" cy="1018.8" r="2.95"/>
<circle cx="562.9" cy="1018.7" r="2.95"/>
<circle cx="566.3" cy="1019.4" r="2.95"/>
<circle cx="569.4" cy="1019.6" r="2.95"/>
<circle cx="572.8" cy="1019.8" r="2.95"/>
<circle cx="545.3" cy="1022.0" r="2.95"/>
<circle cx="547.9" cy="1022.0" r="2.95"/>
<circle cx="551.4" cy="1022.7" r="2.95"/>
<circle cx="554.4" cy="1022.6" r="2.95"/>
<circle cx="558.4" cy="1022.4" r="2.95"/>
<circle cx="561.5" cy="1021.5" r="2.95"/>
<circle cx="564.8" cy="1022.0" r="2.95"/>
<circle cx="568.0" cy="1022.7" r="2.95"/>
<circle cx="570.6" cy="1022.5" r="2.95"/>
<circle cx="574.5" cy="1021.3" r="2.95"/>
<circle cx="577.2" cy="1022.4" r="2.95"/>
<circle cx="538.0" cy="1025.2" r="2.95"/>
<circle cx="541.4" cy="1025.1" r="2.95"/>
<circle cx="544.5" cy="1024.6" r="2.95"/>
<circle cx="548.4" cy="1024.1" r="2.95"/>
<circle cx="551.2" cy="1024.6" r="2.95"/>
<circle cx="554.5" cy="1023.9" r="2.95"/>
<circle cx="557.7" cy="1024.1" r="2.95"/>
<circle cx="561.5" cy="1024.9" r="2.95"/>
<circle cx="564.8" cy="1024.1" r="2.95"/>
<circle cx="568.0" cy="1024.0" r="2.95"/>
<circle cx="571.0" cy="1024.8" r="2.95"/>
<circle cx="574.2" cy="1025.2" r="2.95"/>
<circle cx="577.6" cy="1024.7" r="2.95"/>
<circle cx="581.1" cy="1024.0" r="2.95"/>
<circle cx="584.5" cy="1024.8" r="2.95"/>
<circle cx="532.9" cy="1027.7" r="2.95"/>
<circle cx="535.9" cy="1028.0" r="2.95"/>
<circle cx="539.3" cy="1027.0" r="2.95"/>
<circle cx="542.6" cy="1027.1" r="2.95"/>
<circle cx="545.3" cy="1027.6" r="2.95"/>
<circle cx="548.3" cy="1027.7" r="2.95"/>
<circle cx="551.6" cy="1027.4" r="2.95"/>
<circle cx="555.3" cy="1027.3" r="2.95"/>
<circle cx="558.2" cy="1026.9" r="2.95"/>
<circle cx="560.8" cy="1026.5" r="2.95"/>
<circle cx="564.1" cy="1027.4" r="2.95"/>
<circle cx="567.4" cy="1027.2" r="2.95"/>
<circle cx="570.9" cy="1026.6" r="2.95"/>
<circle cx="573.5" cy="1027.4" r="2.95"/>
<circle cx="576.5" cy="1026.4" r="2.95"/>
<circle cx="579.9" cy="1026.6" r="2.95"/>
<circle cx="583.0" cy="1026.8" r="2.95"/>
<circle cx="586.3" cy="1027.3" r="2.95"/>
<circle cx="589.2" cy="1027.4" r="2.95"/>
<circle cx="533.0" cy="1029.2" r="2.95"/>
<circle cx="536.5" cy="1029.4" r="2.95"/>
<circle cx="539.0" cy="1029.2" r="2.95"/>
<circle cx="542.5" cy="1030.4" r="2.95"/>
<circle cx="545.8" cy="1029.6" r="2.95"/>
<circle cx="548.5" cy="1029.0" r="2.95"/>
<circle cx="551.9" cy="1029.9" r="2.95"/>
<circle cx="554.8" cy="1030.0" r="2.95"/>
<circle cx="558.0" cy="1030.5" r="2.95"/>
<circle cx="561.4" cy="1029.4" r="2.95"/>
<circle cx="564.7" cy="1029.1" r="2.95"/>
<circle cx="567.5" cy="1029.6" r="2.95"/>
<circle cx="570.4" cy="1029.1" r="2.95"/>
<circle cx="574.0" cy="1029.0" r="2.95"/>
<circle cx="576.9" cy="1030.5" r="2.95"/>
<circle cx="579.7" cy="1029.3" r="2.95"/>
<circle cx="583.2" cy="1029.8" r="2.95"/>
<circle cx="586.4" cy="1030.3" r="2.95"/>
<circle cx="589.1" cy="1029.5" r="2.95"/>
<circle cx="532.8" cy="1031.7" r="2.95"/>
<circle cx="536.4" cy="1032.9" r="2.95"/>
<circle cx="539.4" cy="1031.6" r="2.95"/>
<circle cx="542.7" cy="1032.8" r="2.95"/>
<circle cx="545.5" cy="1032.8" r="2.95"/>
<circle cx="548.6" cy="1032.0" r="2.95"/>
<circle cx="551.5" cy="1032.0" r="2.95"/>
<circle cx="554.6" cy="1032.1" r="2.95"/>
<circle cx="558.3" cy="1032.7" r="2.95"/>
<circle cx="561.5" cy="1032.7" r="2.95"/>
<circle cx="564.1" cy="1032.5" r="2.95"/>
<circle cx="567.4" cy="1032.9" r="2.95"/>
<circle cx="570.6" cy="1032.0" r="2.95"/>
<circle cx="573.8" cy="1033.1" r="2.95"/>
<circle cx="576.6" cy="1033.0" r="2.95"/>
<circle cx="579.6" cy="1032.0" r="2.95"/>
<circle cx="582.9" cy="1032.8" r="2.95"/>
<circle cx="586.6" cy="1032.8" r="2.95"/>
<circle cx="589.3" cy="1033.0" r="2.95"/>
</g>
</svg>
</body></html>
